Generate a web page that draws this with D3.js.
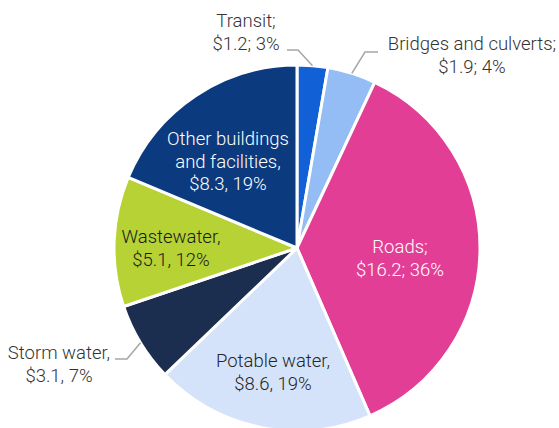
<!DOCTYPE html>
<html>
<head>
<meta charset="utf-8">
<script src="https://cdn.jsdelivr.net/npm/d3@7/dist/d3.min.js"></script>
<style>
  html, body { margin: 0; padding: 0; background: #fff; }
  svg { display: block; }
  text { font-family: Roboto, "Liberation Sans", Arial, sans-serif; font-weight: 300; font-size: 18.5px; }
</style>
</head>
<body>
<svg id="chart" width="559" height="428"></svg>
<script>
// Infrastructure categories, clockwise from 12 o'clock
const categories = ["Transit", "Bridges and culverts", "Roads", "Potable water",
                    "Storm water", "Wastewater", "Other buildings and facilities"];
const values = [1.2, 1.9, 16.2, 8.6, 3.1, 5.1, 8.3];
const percents = [3, 4, 36, 19, 7, 12, 19];
const labelLines = [
  ["Transit;", "$1.2; 3%"],
  ["Bridges and culverts;", "$1.9; 4%"],
  ["Roads;", "$16.2; 36%"],
  ["Potable water,", "$8.6, 19%"],
  ["Storm water,", "$3.1, 7%"],
  ["Wastewater,", "$5.1, 12%"],
  ["Other buildings", "and facilities,", "$8.3, 19%"]
];
const colors = ["#1160d6", "#94bcf5", "#e23e96", "#d4e3fa", "#1c2e4f", "#b6d234", "#0b3a7e"];

const svg = d3.select("#chart");
const cx = 297, cy = 248, r = 183;
const g = svg.append("g").attr("transform", `translate(${cx},${cy})`);

const pie = d3.pie().sort(null).value(d => d);
const arcs = pie(values);
const arc = d3.arc().innerRadius(0).outerRadius(r);

g.selectAll("path.slice")
  .data(arcs)
  .join("path")
  .attr("class", "slice")
  .attr("d", arc)
  .attr("fill", (d, i) => colors[i])
  .attr("stroke", "#fff")
  .attr("stroke-width", 3)
  .attr("stroke-linejoin", "round");

// label placement (relative to pie centre): anchor point, text colour, leader elbow
const layout = [
  { x: -51, y: -221, fill: "#333333", leader: [[-10, -198], [1, -198]] },
  { x: 175, y: -198, fill: "#333333", leader: [[81, -196], [68, -196]] },
  { x: 103, y: 5, fill: "#ffffff" },
  { x: -24, y: 119, fill: "#262626" },
  { x: -238, y: 111, fill: "#333333", leader: [[-182, 111], [-170, 111]] },
  { x: -126, y: -5, fill: "#1a1a1a" },
  { x: -69, y: -103, fill: "#ffffff" }
];

const midPoint = d => {
  const a = (d.startAngle + d.endAngle) / 2;
  return [r * Math.sin(a), -r * Math.cos(a)];
};

arcs.forEach((d, i) => {
  const L = layout[i];
  if (L.leader) {
    const pts = [...L.leader, midPoint(d)];
    g.append("path")
      .attr("d", d3.line()(pts))
      .attr("fill", "none")
      .attr("stroke", "#a6a6a6")
      .attr("stroke-width", 1.5);
  }
  const t = g.append("text")
    .attr("text-anchor", "middle")
    .attr("fill", L.fill)
    .attr("x", L.x)
    .attr("y", L.y);
  labelLines[i].forEach((line, k) => {
    t.append("tspan").attr("x", L.x).attr("dy", k === 0 ? 0 : 22.7).text(line);
  });
});
</script>
</body>
</html>
